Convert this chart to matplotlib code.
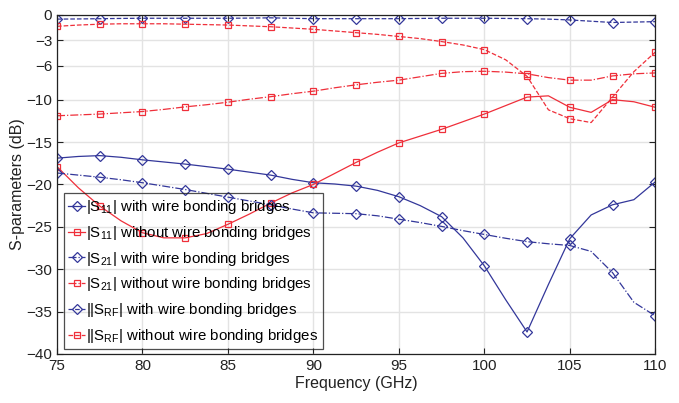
import numpy as np
import matplotlib
matplotlib.use('Agg')
import matplotlib.pyplot as plt

plt.rcParams['font.family'] = ['Liberation Sans', 'DejaVu Sans']
plt.rcParams['mathtext.default'] = 'regular'

# frequency grid of the traces (GHz); markers sit on every second point
freq = np.arange(75, 110.01, 1.25)

s11_with = [-16.9, -16.7, -16.6, -16.8, -17.1, -17.35, -17.6, -17.9, -18.2, -18.55,
            -18.9, -19.4, -19.8, -19.95, -20.2, -20.7, -21.45, -22.5, -23.8, -26.3,
            -29.6, -33.6, -37.4, -31.8, -26.4, -23.6, -22.4, -21.8, -19.7]
s11_without = [-17.9, -20.4, -22.55, -24.3, -25.7, -26.3, -26.3, -25.8, -24.7, -23.5,
               -22.2, -21.0, -20.0, -18.7, -17.4, -16.2, -15.1, -14.3, -13.5, -12.6,
               -11.7, -10.7, -9.7, -9.55, -10.9, -11.5, -10.0, -10.25, -10.9]
s21_with = [-18.65, -18.9, -19.15, -19.45, -19.8, -20.2, -20.6, -21.05, -21.5, -21.95,
            -22.4, -22.9, -23.35, -23.4, -23.45, -23.7, -24.1, -24.5, -24.95, -25.45,
            -25.9, -26.35, -26.75, -27.0, -27.2, -27.9, -30.4, -33.9, -35.5]
s21_without = [-11.9, -11.8, -11.7, -11.55, -11.4, -11.15, -10.85, -10.6, -10.3, -9.95,
               -9.65, -9.3, -9.0, -8.6, -8.25, -7.95, -7.7, -7.3, -6.9, -6.7,
               -6.65, -6.75, -6.95, -7.4, -7.7, -7.7, -7.2, -6.95, -6.85]
srf_with = [-0.5, -0.48, -0.45, -0.42, -0.4, -0.4, -0.4, -0.4, -0.4, -0.38,
            -0.35, -0.4, -0.45, -0.45, -0.45, -0.45, -0.45, -0.42, -0.4, -0.4,
            -0.4, -0.42, -0.45, -0.5, -0.6, -0.75, -0.9, -0.85, -0.8]
srf_without = [-1.35, -1.2, -1.1, -1.05, -1.05, -1.05, -1.1, -1.15, -1.2, -1.3,
               -1.4, -1.55, -1.7, -1.9, -2.1, -2.3, -2.55, -2.8, -3.15, -3.55,
               -4.1, -5.3, -7.25, -11.2, -12.25, -12.7, -9.7, -6.7, -4.4]

labels = ['|S$_{11}$| with wire bonding bridges',
          '|S$_{11}$| without wire bonding bridges',
          '|S$_{21}$| with wire bonding bridges',
          '|S$_{21}$| without wire bonding bridges',
          '||S$_{RF}$| with wire bonding bridges',
          '||S$_{RF}$| without wire bonding bridges']
yticks = [0, -3, -6, -10, -15, -20, -25, -30, -35, -40]

blue = '#33379a'
red = '#ef2f3a'

fig = plt.figure(figsize=(6.79, 4.03), dpi=100)
ax = fig.add_axes([0.084, 0.1216, 0.881, 0.8415])

series = [
    (s11_with, blue, '-', 'D', 5.5),
    (s11_without, red, '-', 's', 4.5),
    (s21_with, blue, '-.', 'D', 5.5),
    (s21_without, red, '-.', 's', 4.5),
    (srf_with, blue, '--', 'D', 5.5),
    (srf_without, red, '--', 's', 4.5),
]
for (vals, col, ls, mk, ms), lab in zip(series, labels):
    ax.plot(freq, vals, color=col, linestyle=ls, linewidth=0.9, marker=mk,
            markersize=ms, markerfacecolor='none', markeredgecolor=col,
            markeredgewidth=0.9, markevery=2, label=lab)

ax.set_xlim(75, 110)
ax.set_ylim(-40, 0)
ax.set_xticks(np.arange(75, 111, 5))
ax.set_yticks(yticks)
ax.grid(True, color='#e3e3e3', linewidth=1.0)
ax.set_axisbelow(True)
ax.tick_params(direction='in', top=True, right=True, labelsize=11, length=4,
               colors='#222222')
for sp in ax.spines.values():
    sp.set_color('#222222')
    sp.set_linewidth(0.9)

ax.set_xlabel('Frequency (GHz)', fontsize=11.5, color='#222222', labelpad=2)
ax.set_ylabel('S-parameters (dB)', fontsize=11.5, color='#222222', labelpad=1)

leg = ax.legend(loc='lower left', bbox_to_anchor=(0.004, 0.0), fontsize=10.8,
                handlelength=1.1, handletextpad=0.1, borderpad=0.3,
                labelspacing=0.52, borderaxespad=0.3, fancybox=False,
                frameon=True)
leg.get_frame().set_edgecolor('#222222')
leg.get_frame().set_facecolor('none')
leg.get_frame().set_linewidth(0.9)

fig.savefig('out.png', dpi=100)
